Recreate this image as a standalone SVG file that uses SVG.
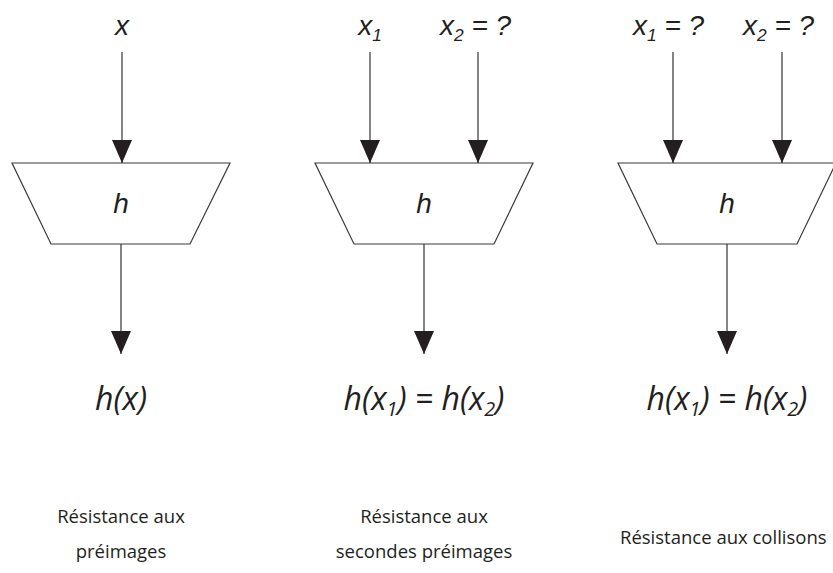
<svg xmlns="http://www.w3.org/2000/svg" width="833" height="573" viewBox="0 0 833 573">
<defs>
<marker id="ah" markerUnits="userSpaceOnUse" markerWidth="23" markerHeight="20" refX="23" refY="10" orient="auto" viewBox="0 0 23 20">
<path d="M0,0 L23,10 L0,20 z" fill="#231f20"/>
</marker>
<style>
.trap{fill:#fff;stroke:#3a3a3a;stroke-width:1.2}
.conn line{stroke:#333;stroke-width:1.2;marker-end:url(#ah)}
.lbl{font-family:"Liberation Sans",Arial,sans-serif;font-style:italic;font-size:28px;fill:#231f20}
.f{font-family:"Open Sans","Liberation Sans",sans-serif;font-style:italic;font-size:32px;fill:#231f20}
.cap{font-family:"Open Sans","Liberation Sans",sans-serif;font-size:18.5px;fill:#231f20;text-anchor:middle}
.sub{font-size:0.62em}
</style>
</defs>
<rect width="833" height="573" fill="#fff"/>
<g id="h1">
<polygon class="trap" points="12,163 230,163 190,244 51,244"/>
<text class="lbl" x="121" y="213" text-anchor="middle">h</text>
</g>
<g id="h2">
<polygon class="trap" points="315,163 533,163 494,244 354,244"/>
<text class="lbl" x="424" y="213" text-anchor="middle">h</text>
</g>
<g id="h3">
<polygon class="trap" points="618,163 836,163 797,244 657,244"/>
<text class="lbl" x="727" y="213" text-anchor="middle">h</text>
</g>
<g id="in1"><text class="lbl" x="122" y="35" text-anchor="middle">x</text></g>
<g id="in2a"><text class="lbl" x="370" y="35" text-anchor="middle">x<tspan class="sub" dy="6">1</tspan></text></g>
<g id="in2b"><text class="lbl" x="440" y="35">x<tspan class="sub" dy="6">2</tspan><tspan dy="-6"> = ?</tspan></text></g>
<g id="in3a"><text class="lbl" x="633" y="35">x<tspan class="sub" dy="6">1</tspan><tspan dy="-6"> = ?</tspan></text></g>
<g id="in3b"><text class="lbl" x="743" y="35">x<tspan class="sub" dy="6">2</tspan><tspan dy="-6"> = ?</tspan></text></g>
<g id="out1"><text class="f" x="121" y="410" text-anchor="middle">h(x)</text></g>
<g id="out2"><text class="f" x="424" y="410" text-anchor="middle">h(x<tspan class="sub" dy="6">1</tspan><tspan dy="-6">) = h(x</tspan><tspan class="sub" dy="6">2</tspan><tspan dy="-6">)</tspan></text></g>
<g id="out3"><text class="f" x="727" y="410" text-anchor="middle">h(x<tspan class="sub" dy="6">1</tspan><tspan dy="-6">) = h(x</tspan><tspan class="sub" dy="6">2</tspan><tspan dy="-6">)</tspan></text></g>
<g id="cap1"><text class="cap" x="121" y="523">Résistance aux</text><text class="cap" x="121" y="558">préimages</text></g>
<g id="cap2"><text class="cap" x="424" y="523">Résistance aux</text><text class="cap" x="424" y="558">secondes préimages</text></g>
<g id="cap3"><text class="cap" x="620" y="544" style="text-anchor:start">Résistance aux collisons</text></g>
<g id="connectors" class="conn">
<line x1="122" y1="52" x2="122" y2="163"/>
<line x1="370" y1="52" x2="370" y2="163"/>
<line x1="478" y1="52" x2="478" y2="163"/>
<line x1="673" y1="52" x2="673" y2="163"/>
<line x1="782" y1="52" x2="782" y2="163"/>
<line x1="121" y1="244" x2="121" y2="354"/>
<line x1="424" y1="244" x2="424" y2="354"/>
<line x1="727" y1="244" x2="727" y2="354"/>
</g>
</svg>
